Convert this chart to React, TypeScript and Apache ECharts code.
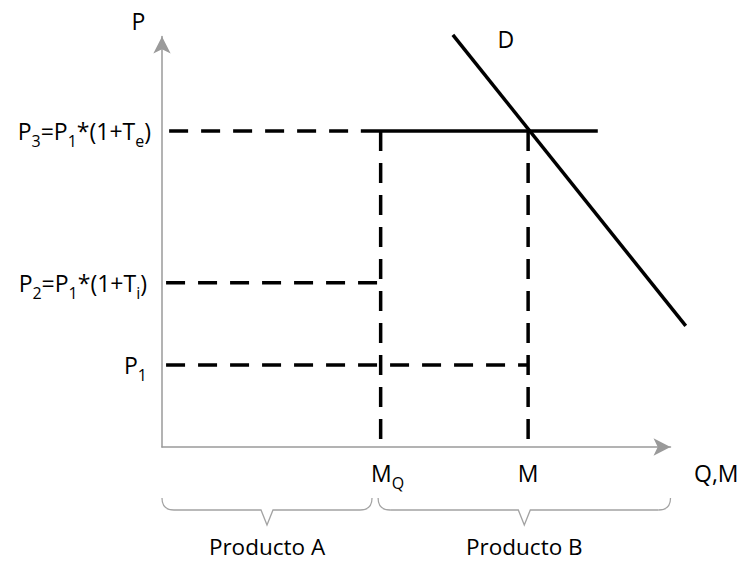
import React, { useEffect, useRef } from "react";
import * as echarts from "echarts";

// ---- data ----
const priceLevels = [2, 4, 7.7]; // P1, P2, P3
const priceLabels = [
  "{t|P}{s|1}{e|}",
  "{t|P}{s|2}{t|=P}{s|1}{t|*(1+T}{s|i}{t|)}{e|}",
  "{t|P}{s|3}{t|=P}{s|1}{t|*(1+T}{s|e}{t|)}",
];
const quantityTicks = [4.3, 7.2]; // MQ, M
const quantityLabels = ["{f|M}{s|Q}", "{t|M}"];
const priceLineStarts = [0.08, 0.08, 0.14]; // where each dashed price line starts on x
const priceLineEnds = [7.2, 4.3, 3.91]; // where each dashed price line stops on x
const worldPriceSolid = [3.91, 8.57]; // solid part of P3 line (x range)
const demandCurve = [
  [5.72, 10.04],
  [10.3, 2.95],
];
const demandName = "D";
const productRanges = [
  [0, 4.13],
  [4.25, 10],
];
const productNames = ["Producto A", "Producto B"];

const FONT = "'Open Sans', sans-serif";
const BLACK = "#000";
const AXIS = "#9a9a9a";

const rich = {
  t: { fontSize: 23, fontFamily: FONT, color: BLACK, lineHeight: 30 },
  f: { fontSize: 23, fontFamily: FONT, color: BLACK, lineHeight: 30, padding: [0, 0, 0, 14] },
  s: { fontSize: 16, fontFamily: FONT, color: BLACK, lineHeight: 30, padding: [20, 0, 0, 0] },
  e: { fontSize: 16, fontFamily: FONT, color: BLACK, lineHeight: 30, width: 4 },
};

const pick = (vals: number[], labels: string[], v: number) => {
  const i = vals.findIndex((x) => Math.abs(x - v) < 1e-6);
  return i >= 0 ? labels[i] : "";
};

const dashed = { color: BLACK, width: 3.5, type: [19, 13] as number[] };
const solid = { color: BLACK, width: 3.5, type: "solid" as const };

export default function App() {
  const ref = useRef<HTMLDivElement>(null);

  useEffect(() => {
    if (!ref.current) return;
    const chart = echarts.init(ref.current, undefined, { renderer: "svg" });

    const series: any[] = [];
    priceLevels.forEach((p, i) => {
      series.push({
        type: "line",
        symbol: "none",
        silent: true,
        data: [
          [priceLineStarts[i], p],
          [priceLineEnds[i], p],
        ],
        lineStyle: dashed,
      });
    });
    series.push({
      type: "line",
      symbol: "none",
      silent: true,
      data: [
        [worldPriceSolid[0], priceLevels[2]],
        [worldPriceSolid[1], priceLevels[2]],
      ],
      lineStyle: solid,
    });
    quantityTicks.forEach((q) => {
      series.push({
        type: "line",
        symbol: "none",
        silent: true,
        data: [
          [q, priceLevels[2]],
          [q, 0],
        ],
        lineStyle: { ...dashed, type: [20, 12] },
      });
    });

    const option: any = {
      animation: false,
      grid: { left: 162, right: 75.5, top: 36.5, bottom: 114, outerBoundsMode: "none" },
      xAxis: {
        type: "value",
        min: 0,
        max: 10,
        splitLine: { show: false },
        axisTick: { show: false },
        axisLine: {
          show: true,
          symbol: ["none", "arrow"],
          symbolSize: [13, 17],
          lineStyle: { color: AXIS, width: 1.5 },
        },
        axisLabel: {
          customValues: quantityTicks,
          formatter: (v: number) => pick(quantityTicks, quantityLabels, v),
          margin: 11,
          rich,
        },
        name: "{n|Q,M}",
        nameLocation: "end",
        nameGap: 23.5,
        nameMoveOverlap: false,
        nameTextStyle: {
          rich: {
            n: {
              fontSize: 23,
              fontFamily: FONT,
              color: BLACK,
              lineHeight: 30,
              padding: [52, 0, 0, 0],
            },
          },
        },
      },
      yAxis: {
        type: "value",
        min: 0,
        max: 10,
        splitLine: { show: false },
        axisTick: { show: false },
        axisLine: {
          show: true,
          symbol: ["none", "arrow"],
          symbolSize: [13, 17],
          lineStyle: { color: AXIS, width: 1.5 },
        },
        axisLabel: {
          customValues: priceLevels,
          formatter: (v: number) => pick(priceLevels, priceLabels, v),
          margin: 11,
          rich,
        },
        name: "P",
        nameLocation: "end",
        nameGap: 4,
        nameTextStyle: {
          fontSize: 23,
          fontFamily: FONT,
          color: BLACK,
          padding: [0, 47, 0, 0],
        },
      },
      series,
    };
    chart.setOption(option);

    const px = (pt: number[]) => chart.convertToPixel({ gridIndex: 0 }, pt) as number[];

    const children: any[] = [];

    // demand curve (extends past the x axis end, so it is not clipped by the grid)
    const d0 = px(demandCurve[0]);
    const d1 = px(demandCurve[1]);
    children.push(
      {
        type: "line",
        silent: true,
        shape: { x1: d0[0], y1: d0[1], x2: d1[0], y2: d1[1] },
        style: { stroke: BLACK, lineWidth: 3.5 },
      },
      {
        type: "text",
        silent: true,
        x: d0[0] + 53,
        y: d0[1] + 4,
        style: {
          text: demandName,
          fontSize: 23,
          fontFamily: FONT,
          fill: BLACK,
          align: "center",
          verticalAlign: "middle",
          lineHeight: 24,
        },
      }
    );

    // braces under the x axis, placed through the x scale
    const top = 498;
    const bot = 510;
    const tip = 525;
    const r = 12;
    const braceStyle = { stroke: "#a3a3a3", lineWidth: 1.3, fill: null };
    productRanges.forEach(([a, b], i) => {
      const xa = chart.convertToPixel({ xAxisIndex: 0 }, a) as number;
      const xb = chart.convertToPixel({ xAxisIndex: 0 }, b) as number;
      const mid = (xa + xb) / 2;
      children.push(
        {
          type: "bezierCurve",
          silent: true,
          shape: { x1: xa, y1: top, x2: xa + r, y2: bot, cpx1: xa, cpy1: bot },
          style: braceStyle,
        },
        {
          type: "polyline",
          silent: true,
          shape: {
            points: [
              [xa + r, bot],
              [mid - 6, bot],
              [mid, tip],
              [mid + 6, bot],
              [xb - r, bot],
            ],
          },
          style: braceStyle,
        },
        {
          type: "bezierCurve",
          silent: true,
          shape: { x1: xb - r, y1: bot, x2: xb, y2: top, cpx1: xb, cpy1: bot },
          style: braceStyle,
        },
        {
          type: "text",
          silent: true,
          x: mid,
          y: 546,
          style: {
            text: productNames[i],
            fontSize: 22.5,
            fontFamily: FONT,
            fill: BLACK,
            align: "center",
            verticalAlign: "middle",
            lineHeight: 24,
          },
        }
      );
    });
    chart.setOption({ graphic: [{ type: "group", children }] });

    return () => chart.dispose();
  }, []);

  return (
    <div
      ref={ref}
      style={{ position: "fixed", left: 0, top: 0, width: 746, height: 561, background: "#fff" }}
    />
  );
}
